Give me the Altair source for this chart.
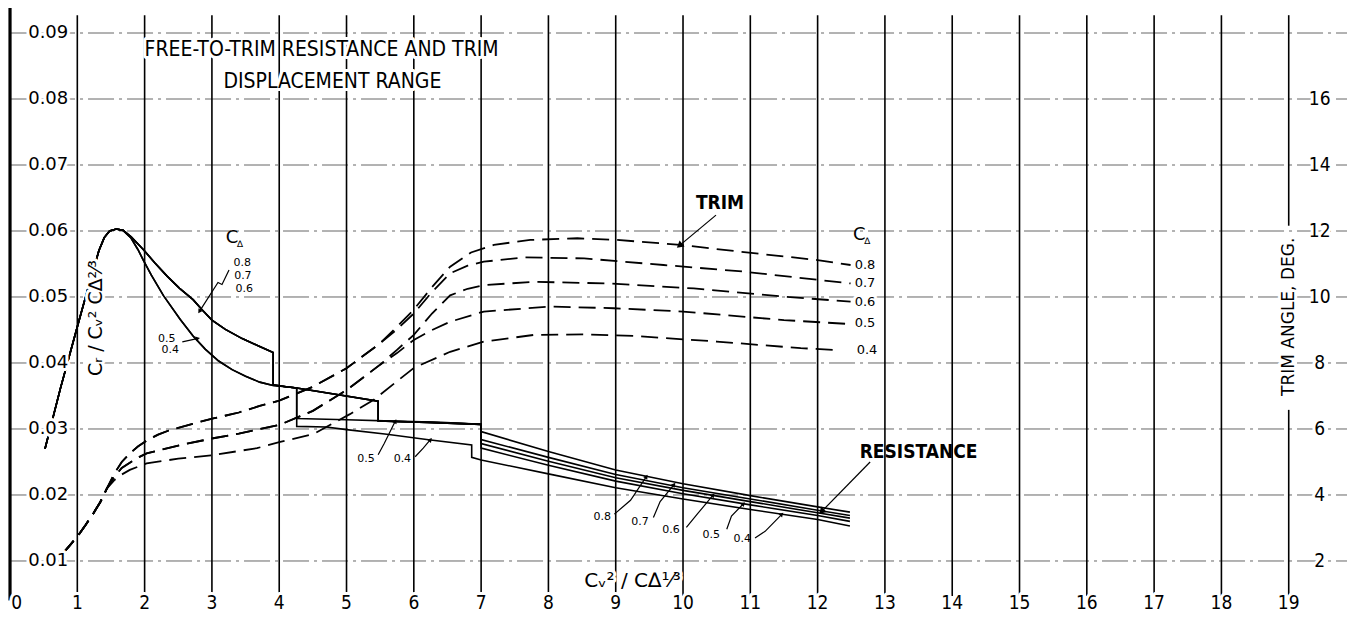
import math
import altair as alt
import pandas as pd

# ------------------------------------------------------------------
# layout (plot area only)
W, H = 1339, 609
X_DOM = [-0.03, 19.866]
V_DOM = [0.001515, 0.093788]          # resistance coefficient (left)
T_DOM = [0.303, 18.758]               # trim angle, deg (right)
FONT = "DejaVu Sans"
COND = "DejaVu Sans Condensed, DejaVu Sans"

# ------------------------------------------------------------------
# tick labels
x_ticks = list(range(0, 20))
x_tick_labels = [str(i) for i in x_ticks]
v_ticks = [0.01, 0.02, 0.03, 0.04, 0.05, 0.06, 0.07, 0.08, 0.09]
v_tick_labels = ["0.01", "0.02", "0.03", "0.04", "0.05", "0.06", "0.07", "0.08", "0.09"]
t_ticks = [2, 4, 6, 8, 10, 12, 14, 16]
t_tick_labels = ["2", "4", "6", "8", "10", "12", "14", "16"]

# ------------------------------------------------------------------
# RESISTANCE  C_R / (C_V^2 C_delta^2/3)
rise_x = [0.52, 0.75, 1.0, 1.15, 1.25, 1.32, 1.40, 1.48, 1.58, 1.68]
rise_v = [0.0270, 0.0362, 0.0455, 0.0510, 0.0545, 0.0570, 0.0590, 0.0600, 0.0603, 0.0601]
# branch for C_delta = 0.8, 0.7, 0.6
upper_x = [1.80, 1.98, 2.15, 2.33, 2.52, 2.72, 2.85, 3.00, 3.20, 3.45, 3.71, 3.91, 3.91, 4.10, 4.26, 5.47, 5.47, 6.20, 7.00]
upper_v = [0.0591, 0.0572, 0.0552, 0.0532, 0.0513, 0.0496, 0.0481, 0.0465, 0.0451, 0.0437, 0.0425, 0.0416,
           0.0367, 0.0364, 0.0362, 0.0342, 0.0312, 0.0310, 0.0307]
# branch for C_delta = 0.5, 0.4
lower_x = [1.80, 1.90, 1.98, 2.10, 2.28, 2.53, 2.72, 2.90, 3.10, 3.30, 3.50, 3.71, 3.91, 4.10, 4.26]
lower_v = [0.0589, 0.0572, 0.0556, 0.0533, 0.0502, 0.0466, 0.0441, 0.0421, 0.0403, 0.0390, 0.0380,
           0.0371, 0.0366, 0.0364, 0.0362]
step05_x = [4.26, 5.00, 5.70, 6.40, 7.00]
step05_v = [0.0316, 0.0314, 0.0312, 0.0310, 0.0307]
step04_x = [4.26, 4.70, 5.00, 5.60, 6.19, 6.86, 6.86]
step04_v = [0.0304, 0.0303, 0.0299, 0.0292, 0.0284, 0.0276, 0.0257]
bundle_x = [7.0, 8.0, 9.0, 10.0, 11.0, 12.0, 12.48]
res_08 = [0.0296, 0.0266, 0.0238, 0.0217, 0.0199, 0.0182, 0.0174]
res_07 = [0.0284, 0.0257, 0.0231, 0.0211, 0.0194, 0.0177, 0.0169]
res_06 = [0.0278, 0.0251, 0.0226, 0.0207, 0.0190, 0.0173, 0.0165]
res_05 = [0.0271, 0.0245, 0.0221, 0.0202, 0.0185, 0.0169, 0.0160]
res_04 = [0.0253, 0.0232, 0.0211, 0.0194, 0.0178, 0.0163, 0.0153]

# ------------------------------------------------------------------
# TRIM ANGLE, deg
trim_common_x = [0.78, 0.87, 1.00, 1.12, 1.24, 1.34, 1.44]
trim_common_t = [2.22, 2.43, 2.74, 3.08, 3.45, 3.78, 4.20]
trim_hi_x = [1.55, 1.66, 1.78, 1.90, 2.03, 2.20, 2.38, 2.70, 3.02, 3.40, 3.71, 4.00, 4.50, 5.00, 5.50]
trim_hi_t = [4.65, 5.00, 5.26, 5.47, 5.65, 5.83, 5.97, 6.15, 6.32, 6.50, 6.70, 6.86, 7.28, 7.84, 8.60]
trim_08_x = [5.75, 6.00, 6.27, 6.54, 6.85, 7.19, 7.73, 8.43, 9.02, 9.96, 10.86, 12.00, 12.49]
trim_08_t = [9.10, 9.62, 10.30, 10.92, 11.35, 11.58, 11.73, 11.78, 11.73, 11.58, 11.37, 11.12, 10.97]
trim_07_x = [5.75, 6.00, 6.27, 6.54, 6.80, 7.04, 7.63, 8.53, 9.71, 10.90, 12.00, 12.49]
trim_07_t = [9.02, 9.50, 10.15, 10.72, 10.95, 11.07, 11.20, 11.17, 10.97, 10.77, 10.52, 10.41]
trim_mid_x = [1.55, 1.66, 1.78, 1.88, 2.03, 2.50, 3.02, 3.40, 3.71, 4.00, 4.50, 5.00, 5.50]
trim_mid_t = [4.55, 4.82, 4.98, 5.11, 5.26, 5.50, 5.72, 5.86, 6.00, 6.12, 6.55, 7.18, 7.95]
trim_06_x = [5.75, 6.00, 6.27, 6.54, 6.80, 7.04, 7.78, 8.92, 10.16, 11.50, 12.49]
trim_06_t = [8.40, 8.85, 9.50, 10.05, 10.25, 10.36, 10.46, 10.41, 10.26, 10.01, 9.86]
trim_05_x = [5.75, 6.00, 6.27, 6.54, 7.04, 8.03, 8.97, 10.00, 11.50, 12.49]
trim_05_t = [8.30, 8.70, 9.00, 9.25, 9.56, 9.71, 9.66, 9.56, 9.30, 9.18]
trim_04_x = [1.55, 1.66, 1.78, 2.03, 2.50, 3.02, 3.67, 4.00, 4.51, 5.05, 5.40, 6.00, 6.54, 7.04, 7.78,
             8.53, 9.27, 10.50, 11.75, 12.32]
trim_04_t = [4.45, 4.62, 4.76, 4.96, 5.10, 5.21, 5.42, 5.60, 5.85, 6.45, 6.88, 7.85, 8.34, 8.65, 8.85,
             8.87, 8.82, 8.65, 8.45, 8.39]

# ------------------------------------------------------------------
# annotation texts
title_text = ["FREE-TO-TRIM RESISTANCE AND TRIM", "DISPLACEMENT RANGE"]
title_x = [4.63, 4.79]
title_v = [0.0874, 0.0826]

trim_end_labels = ["0.8", "0.7", "0.6", "0.5", "0.4"]
trim_end_x = [12.55, 12.55, 12.55, 12.55, 12.58]
trim_end_t = [10.97, 10.42, 9.85, 9.21, 8.39]

res_labels = ["0.8", "0.7", "0.6", "0.5", "0.4"]
res_label_x = [8.80, 9.36, 9.82, 10.42, 10.88]
res_label_v = [0.0167, 0.0159, 0.0147, 0.0139, 0.0134]

left_labels = ["0.8", "0.7", "0.6", "0.5", "0.4", "0.5", "0.4"]
left_label_x = [3.45, 3.46, 3.48, 2.33, 2.38, 5.29, 5.83]
left_label_v = [0.0552, 0.0532, 0.0512, 0.0436, 0.0420, 0.0255, 0.0255]

# leader arrows (polylines in x / resistance units); the last point is the tip
arrows = {
    "trim": ([10.49, 9.96], [0.0624, 0.0579]),
    "res": ([12.78, 12.07], [0.0250, 0.0176]),
    "r08": ([8.98, 9.22, 9.45], [0.0171, 0.0192, 0.0227]),
    "r07": ([9.56, 9.66, 9.86], [0.0166, 0.0190, 0.0215]),
    "r06": ([10.05, 10.22, 10.44], [0.0151, 0.0172, 0.0199]),
    "r05": ([10.65, 10.72, 10.89], [0.0148, 0.0168, 0.0186]),
    "r04": ([11.07, 11.22, 11.46], [0.0135, 0.0145, 0.0170]),
    "cd": ([3.254, 3.15, 3.09, 2.82], [0.0541, 0.0519, 0.0522, 0.0479]),
    "l54": ([2.56, 2.78], [0.0432, 0.0437]),
    "m05": ([5.47, 5.56, 5.72], [0.0261, 0.0278, 0.0311]),
    "m04": ([6.02, 6.14, 6.24], [0.0258, 0.0271, 0.0283]),
}

# ------------------------------------------------------------------
def xq(f="x"):
    return alt.X(f, type="quantitative", scale=alt.Scale(domain=X_DOM, nice=False, zero=False), axis=None)


def yv(f="y"):
    return alt.Y(f, type="quantitative", scale=alt.Scale(domain=V_DOM, nice=False, zero=False), axis=None)


def yt(f="y"):
    return alt.Y(f, type="quantitative", scale=alt.Scale(domain=T_DOM, nice=False, zero=False), axis=None)


def series_df(series):
    rows = []
    for name, (xs, ys) in series.items():
        for i, (a, b) in enumerate(zip(xs, ys)):
            rows.append({"s": name, "x": a, "y": b, "o": i})
    return pd.DataFrame(rows)


layers = []

# horizontal grid (dash-dot)
hg = pd.DataFrame({"y": v_ticks, "x": [0.0] * len(v_ticks), "x2": [X_DOM[1]] * len(v_ticks)})
layers.append(alt.Chart(hg).mark_rule(color="#555", strokeWidth=0.9, strokeDash=[26, 5, 3, 5]).encode(
    x=xq(), x2=alt.X2("x2"), y=yv()))

# vertical grid
vg_x = list(range(1, 19)) + [19, 19]
vg = pd.DataFrame({"x": vg_x,
                   "y": [0.0927] * 18 + [0.0927, 0.0329],
                   "y2": [0.0047] * 18 + [0.0608, 0.0047]})
layers.append(alt.Chart(vg).mark_rule(color="black", strokeWidth=1.6).encode(
    x=xq(), y=yv(), y2=alt.Y2("y2")))
ax0 = pd.DataFrame({"x": [0.0], "y": [V_DOM[1]], "y2": [0.0040]})
layers.append(alt.Chart(ax0).mark_rule(color="black", strokeWidth=3.2).encode(
    x=xq(), y=yv(), y2=alt.Y2("y2")))

# resistance curves
res = {
    "0.8": (rise_x + upper_x + bundle_x, rise_v + upper_v + res_08),
    "0.7": (rise_x + upper_x + bundle_x, rise_v + upper_v + res_07),
    "0.6": (rise_x + upper_x + bundle_x, rise_v + upper_v + res_06),
    "0.5": (rise_x + lower_x + step05_x + bundle_x, rise_v + lower_v + step05_v + res_05),
    "0.4": (rise_x + lower_x + step04_x + bundle_x, rise_v + lower_v + step04_v + res_04),
}
layers.append(alt.Chart(series_df(res)).mark_line(color="black", strokeWidth=1.6, strokeJoin="miter").encode(
    x=xq(), y=yv(), detail="s:N", order="o:Q"))

# trim curves
trim = {
    "0.8": (trim_common_x + trim_hi_x + trim_08_x, trim_common_t + trim_hi_t + trim_08_t),
    "0.7": (trim_common_x + trim_hi_x + trim_07_x, trim_common_t + trim_hi_t + trim_07_t),
    "0.6": (trim_common_x + trim_mid_x + trim_06_x, trim_common_t + trim_mid_t + trim_06_t),
    "0.5": (trim_common_x + trim_mid_x + trim_05_x, trim_common_t + trim_mid_t + trim_05_t),
    "0.4": (trim_common_x + trim_04_x, trim_common_t + trim_04_t),
}
layers.append(alt.Chart(series_df(trim)).mark_line(color="black", strokeWidth=1.8, strokeDash=[17, 8]).encode(
    x=xq(), y=yt(), detail="s:N", order="o:Q"))

# leader arrows
layers.append(alt.Chart(series_df(arrows)).mark_line(color="black", strokeWidth=1.2).encode(
    x=xq(), y=yv(), detail="s:N", order="o:Q"))
px_x = W / (X_DOM[1] - X_DOM[0])
px_v = H / (V_DOM[1] - V_DOM[0])
heads = []
for name, (xs, ys) in arrows.items():
    dx = (xs[-1] - xs[-2]) * px_x
    dy = -(ys[-1] - ys[-2]) * px_v
    ang = math.degrees(math.atan2(dx, -dy)) % 360
    big = name in ("trim", "res")
    heads.append({"x": xs[-1], "y": ys[-1], "a": ang, "sz": 60 if big else 25})
layers.append(alt.Chart(pd.DataFrame(heads)).mark_point(shape="triangle", filled=True, color="black",
                                                        opacity=1).encode(
    x=xq(), y=yv(), angle=alt.Angle("a:Q", scale=None), size=alt.Size("sz:Q", scale=None)))


def text_layer(df, ycall, size, font=FONT, align="center", halo=False, angle=0, weight="normal", dx=0, dy=0):
    out = []
    base = alt.Chart(df).encode(x=xq(), y=ycall(), text="t:N")
    kw = dict(fontSize=size, font=font, align=align, baseline="middle", angle=angle, fontWeight=weight,
              dx=dx, dy=dy)
    if halo:
        out.append(base.mark_text(color="white", stroke="white", strokeWidth=6, strokeJoin="round", **kw))
    out.append(base.mark_text(color="black", **kw))
    return out


# tick labels
layers += text_layer(pd.DataFrame({"x": [0.27] * 9, "y": v_ticks, "t": v_tick_labels}), yv, 18,
                     align="left", halo=True)
x_lab_pos = [max(t, 0.1) for t in x_ticks]
layers += text_layer(pd.DataFrame({"x": x_lab_pos, "y": [0.0036] * 20, "t": x_tick_labels}), yv, 19,
                     font=COND, halo=True)
layers += text_layer(pd.DataFrame({"x": [19.46] * 8, "y": t_ticks, "t": t_tick_labels}), yt, 19,
                     font=COND, halo=True)

# axis titles
layers += text_layer(pd.DataFrame({"x": [1.28], "y": [0.0468], "t": ["Cᵣ / Cᵥ² C∆²⁄³"]}), yv, 19,
                     angle=270, halo=True)
layers += text_layer(pd.DataFrame({"x": [9.25], "y": [0.0070], "t": ["Cᵥ² / C∆¹⁄³"]}), yv, 20, halo=True)
layers += text_layer(pd.DataFrame({"x": [19.0], "y": [9.4], "t": ["TRIM ANGLE, DEG."]}), yt, 17,
                     angle=270, halo=True)

# chart title
layers += text_layer(pd.DataFrame({"x": title_x, "y": title_v, "t": title_text}), yv, 21, font=COND, halo=True)

# curve labels
layers += text_layer(pd.DataFrame({"x": [10.55], "y": [0.0642], "t": ["TRIM"]}), yv, 19, font=COND,
                     weight="bold")
layers += text_layer(pd.DataFrame({"x": [13.5], "y": [0.0265], "t": ["RESISTANCE"]}), yv, 19, font=COND,
                     weight="bold")
layers += text_layer(pd.DataFrame({"x": trim_end_x, "y": trim_end_t, "t": trim_end_labels}), yt, 13,
                     align="left", halo=True)
layers += text_layer(pd.DataFrame({"x": res_label_x, "y": res_label_v, "t": res_labels}), yv, 11)
layers += text_layer(pd.DataFrame({"x": left_label_x, "y": left_label_v, "t": left_labels}), yv, 11)
# C_delta headings
cd = pd.DataFrame({"x": [3.30, 12.62], "y": [0.0590, 0.0594], "t": ["C", "C"]})
layers += text_layer(cd, yv, 18)
cds = pd.DataFrame({"x": [3.30, 12.62], "y": [0.0590, 0.0594], "t": ["∆", "∆"]})
layers += text_layer(cds, yv, 9, dx=8, dy=6)

chart = alt.layer(*layers).resolve_scale(y="independent").properties(
    width=W, height=H, padding=0, autosize=alt.AutoSizeParams(type="none"),
    background="white").configure_view(stroke=None)

chart.save("out.html", embed_options={"renderer": "svg", "actions": False})
